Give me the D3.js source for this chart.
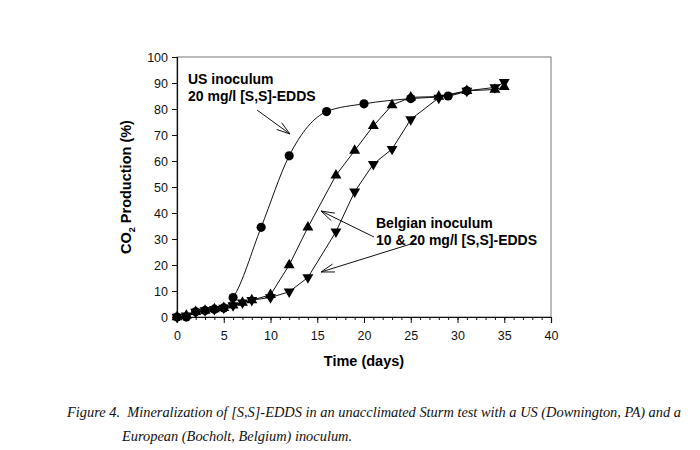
<!DOCTYPE html>
<html>
<head>
<meta charset="utf-8">
<script src="https://cdn.jsdelivr.net/npm/d3@7"></script>
<style>
  body { margin: 0; background: #fff; }
  svg { font-family: "Liberation Sans", Arial, sans-serif; }
</style>
</head>
<body>
<div id="chart"></div>
<script>
// US inoculum, 20 mg/l (circles)
const usDays   = [0, 1, 2, 3, 4, 5, 6, 9, 12, 16, 20, 25, 29, 31];
const usValues = [0, 0, 2, 2.5, 3, 3.5, 7.5, 34.5, 62, 79, 82, 84, 85, 87];

// Belgian inoculum (up triangles)
const upDays   = [0, 1, 2, 3, 4, 5, 6, 7, 8, 10, 12, 14, 17, 19, 21, 23, 25, 28, 31, 34, 35];
const upValues = [0, 0.5, 2, 2.5, 3, 3.5, 4.5, 5.5, 6.5, 8.5, 20, 34.5, 54.5, 64, 73.5, 81.5, 84.5, 84.8, 87, 87.5, 88.5];

// Belgian inoculum (down triangles)
const downDays   = [0, 1, 2, 3, 4, 5, 6, 7, 8, 10, 12, 14, 17, 19, 21, 23, 25, 28, 31, 34, 35];
const downValues = [0, 0.5, 2, 2.5, 3, 3.5, 4.5, 5.5, 6.5, 7.5, 9.7, 15.2, 32.8, 48.2, 58.8, 64.6, 76, 84.3, 87, 88.3, 90.3];

const xTicks = [0, 5, 10, 15, 20, 25, 30, 35, 40];
const yTicks = [0, 10, 20, 30, 40, 50, 60, 70, 80, 90, 100];

const width = 700, height = 450;

const svg = d3.select("#chart").append("svg")
    .attr("width", width)
    .attr("height", height);

const x = d3.scaleLinear().domain([0, 40]).range([177, 551]);
const y = d3.scaleLinear().domain([0, 100]).range([317, 57]);

// frame
svg.append("rect")
    .attr("x", x(0)).attr("y", y(100))
    .attr("width", x(40) - x(0)).attr("height", y(0) - y(100))
    .attr("fill", "none").attr("stroke", "#555").attr("stroke-width", 0.8);

// y axis
const yAxis = svg.append("g")
    .attr("transform", `translate(${x(0)},0)`)
    .call(d3.axisLeft(y).tickValues(yTicks).tickSize(5).tickPadding(4));
yAxis.selectAll("text").style("font-size", "12.5px").attr("fill", "#111");
yAxis.select(".domain").attr("stroke", "#111").attr("stroke-width", 1.2);
yAxis.selectAll(".tick line").attr("stroke", "#111");

// x axis with minor ticks every day
const xMinor = svg.append("g")
    .attr("transform", `translate(0,${y(0)})`)
    .call(d3.axisBottom(x).tickValues(d3.range(0, 41, 1)).tickSize(3).tickFormat(""));
xMinor.select(".domain").remove();
xMinor.selectAll(".tick line").attr("stroke", "#111");

const xAxis = svg.append("g")
    .attr("transform", `translate(0,${y(0)})`)
    .call(d3.axisBottom(x).tickValues(xTicks).tickSize(6).tickPadding(8));
xAxis.selectAll("text").style("font-size", "12.5px").attr("fill", "#111");
xAxis.select(".domain").attr("stroke", "#111").attr("stroke-width", 1.2);
xAxis.selectAll(".tick line").attr("stroke", "#111");

// axis titles
svg.append("text")
    .attr("x", x(20)).attr("y", 366)
    .attr("text-anchor", "middle")
    .style("font-size", "14.5px").style("font-weight", "bold")
    .text("Time (days)");

const yTitle = svg.append("text")
    .attr("transform", `translate(131,${(y(0) + y(100)) / 2}) rotate(-90)`)
    .attr("text-anchor", "middle")
    .style("font-size", "14.5px").style("font-weight", "bold");
yTitle.append("tspan").text("CO");
yTitle.append("tspan").attr("dy", 4).style("font-size", "9px").text("2");
yTitle.append("tspan").attr("dy", -4).text(" Production (%)");

// series
const series = [
    { days: usDays, values: usValues, shape: "circle", curve: d3.curveMonotoneX },
    { days: upDays, values: upValues, shape: "up", curve: d3.curveLinear },
    { days: downDays, values: downValues, shape: "down", curve: d3.curveLinear }
];

series.forEach(s => {
    const pts = s.days.map((d, i) => [d, s.values[i]]);
    const line = d3.line()
        .x(d => x(d[0]))
        .y(d => y(d[1]))
        .curve(s.curve);
    svg.append("path")
        .datum(pts)
        .attr("d", line)
        .attr("fill", "none")
        .attr("stroke", "#111")
        .attr("stroke-width", 1);
});

series.forEach(s => {
    const pts = s.days.map((d, i) => [d, s.values[i]]);
    const sym = s.shape === "circle"
        ? d3.symbol().type(d3.symbolCircle).size(66)
        : d3.symbol().type(d3.symbolTriangle).size(52);
    svg.append("g").selectAll("path")
        .data(pts)
        .enter()
            .append("path")
            .attr("d", sym)
            .attr("fill", "#000")
            .attr("transform", d => {
                const rot = s.shape === "down" ? " rotate(180)" : "";
                return `translate(${x(d[0])},${y(d[1])})${rot}`;
            });
});

// annotations
const drawArrow = (x1, y1, x2, y2) => {
    const ang = Math.atan2(y2 - y1, x2 - x1);
    const len = 14, spread = 0.3;
    const a1 = [x2 - len * Math.cos(ang - spread), y2 - len * Math.sin(ang - spread)];
    const a2 = [x2 - len * Math.cos(ang + spread), y2 - len * Math.sin(ang + spread)];
    svg.append("path")
        .attr("d", `M${x1},${y1}L${x2},${y2}M${a1[0]},${a1[1]}L${x2},${y2}L${a2[0]},${a2[1]}`)
        .attr("fill", "none")
        .attr("stroke", "#111")
        .attr("stroke-width", 1);
};

const usLabel = svg.append("text")
    .attr("x", 188).attr("y", 84)
    .style("font-size", "14px").style("font-weight", "bold");
usLabel.append("tspan").attr("x", 188).text("US inoculum");
usLabel.append("tspan").attr("x", 188).attr("dy", 17).text("20 mg/l [S,S]-EDDS");
drawArrow(257, 110, 290, 134);

const beLabel = svg.append("text")
    .attr("x", 376).attr("y", 228)
    .style("font-size", "14px").style("font-weight", "bold");
beLabel.append("tspan").attr("x", 376).text("Belgian inoculum");
beLabel.append("tspan").attr("x", 376).attr("dy", 17).text("10 & 20 mg/l [S,S]-EDDS");
drawArrow(374, 237, 321, 211);
drawArrow(414, 243, 321, 272);

// caption
const cap = svg.append("text")
    .style("font-family", "'Liberation Serif', 'Times New Roman', serif")
    .style("font-style", "italic")
    .style("font-size", "14.4px")
    .style("white-space", "pre")
    .attr("fill", "#111");
cap.append("tspan").attr("x", 67).attr("y", 417)
    .text("Figure 4.  Mineralization of [S,S]-EDDS in an unacclimated Sturm test with a US (Downington, PA) and a");
cap.append("tspan").attr("x", 122).attr("y", 441)
    .text("European (Bocholt, Belgium) inoculum.");
</script>
</body>
</html>
